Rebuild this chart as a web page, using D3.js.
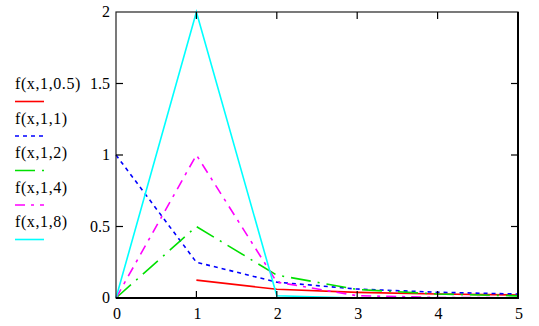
<!DOCTYPE html>
<html lang="en">
<head>
<meta charset="UTF-8">
<title>f(x,1,b)</title>
<script src="https://d3js.org/d3.v7.min.js"></script>
<style>
  body { margin: 0; background: #fff; }
  svg text { font-family: "Liberation Serif", "Times New Roman", Tinos, "DejaVu Serif", "Noto Serif", Times, serif; fill: #000; }
</style>
</head>
<body>
<div id="chart"></div>
<script>
// x positions shared by every series
const xs = [0, 1, 2, 3, 4, 5];

// values (null = not drawn)
const f05 = [null, 0.125, 0.061, 0.039, 0.028, 0.021];
const f1 = [1, 0.25, 0.111, 0.0625, 0.04, 0.028];
const f2 = [0, 0.5, 0.16, 0.06, 0.028, 0.015];
const f4 = [0, 1, 0.111, 0.016, 0.004, 0.0013];
const f8 = [0, 2, 0.0155, 0.0004, 0, 0];

const labels = ["f(x,1,0.5)", "f(x,1,1)", "f(x,1,2)", "f(x,1,4)", "f(x,1,8)"];
const colors = ["#ff0000", "#0000ff", "#00e000", "#ff00ff", "#00ffff"];
const dashes = [null, "4,4", "20,7,2,7", "10,6,3,6", null];
const yTicks = [0, 0.5, 1, 1.5, 2];
const xTicks = [0, 1, 2, 3, 4, 5];

const series = [f05, f1, f2, f4, f8];

const width = 539, height = 326;
const margin = {top: 12, right: 21, bottom: 28, left: 116};

const svg = d3.select("#chart").append("svg")
    .attr("width", width)
    .attr("height", height);

const x = d3.scaleLinear().domain([0, 5]).range([margin.left, width - margin.right]);
const y = d3.scaleLinear().domain([0, 2]).range([height - margin.bottom, margin.top]);

// lines
const line = d3.line()
    .defined(d => d[1] != null)
    .x(d => x(d[0]))
    .y(d => y(d[1]));

series.forEach((vals, i) => {
    svg.append("path")
        .datum(xs.map((v, j) => [v, vals[j]]))
        .attr("fill", "none")
        .attr("stroke", colors[i])
        .attr("stroke-width", 1.6)
        .attr("stroke-dasharray", dashes[i])
        .attr("d", line);
});

// frame
svg.append("rect")
    .attr("x", x(0))
    .attr("y", y(2))
    .attr("width", x(5) - x(0))
    .attr("height", y(0) - y(2))
    .attr("fill", "none")
    .attr("stroke", "#222")
    .attr("stroke-width", 1.2);
svg.append("path")
    .attr("d", `M${x(5)},${y(2)}V${y(0)}H${x(0)}`)
    .attr("fill", "none")
    .attr("stroke", "#000")
    .attr("stroke-width", 2);

// ticks drawn inward on all four sides
const tk = 7;
const ticks = svg.append("g").attr("stroke", "#000").attr("stroke-width", 1.2);
xTicks.slice(1, -1).forEach(t => {
    ticks.append("line").attr("x1", x(t)).attr("x2", x(t)).attr("y1", y(0)).attr("y2", y(0) - tk);
    ticks.append("line").attr("x1", x(t)).attr("x2", x(t)).attr("y1", y(2)).attr("y2", y(2) + tk);
});
yTicks.slice(1, -1).forEach(t => {
    ticks.append("line").attr("x1", x(0)).attr("x2", x(0) + tk).attr("y1", y(t)).attr("y2", y(t));
    ticks.append("line").attr("x1", x(5)).attr("x2", x(5) - tk).attr("y1", y(t)).attr("y2", y(t));
});

// tick labels
svg.append("g").selectAll("text")
    .data(yTicks)
    .join("text")
    .attr("x", x(0) - 6)
    .attr("y", d => y(d) + 5)
    .attr("text-anchor", "end")
    .style("font-size", "16px")
    .text(d => d);

svg.append("g").selectAll("text")
    .data(xTicks)
    .join("text")
    .attr("x", d => x(d) + 1)
    .attr("y", height - 7)
    .attr("text-anchor", "middle")
    .style("font-size", "16px")
    .text(d => d);

// legend on the left
const legend = svg.append("g");
labels.forEach((lab, i) => {
    const top = 89 + i * 34.5;
    legend.append("text")
        .attr("x", 15)
        .attr("y", top)
        .style("font-size", "16px")
        .style("letter-spacing", "0.6px")
        .text(lab);
    legend.append("line")
        .attr("x1", 15).attr("x2", 44)
        .attr("y1", top + 12.5).attr("y2", top + 12.5)
        .attr("stroke", colors[i])
        .attr("stroke-width", 1.6)
        .attr("stroke-dasharray", dashes[i]);
});
</script>
</body>
</html>
